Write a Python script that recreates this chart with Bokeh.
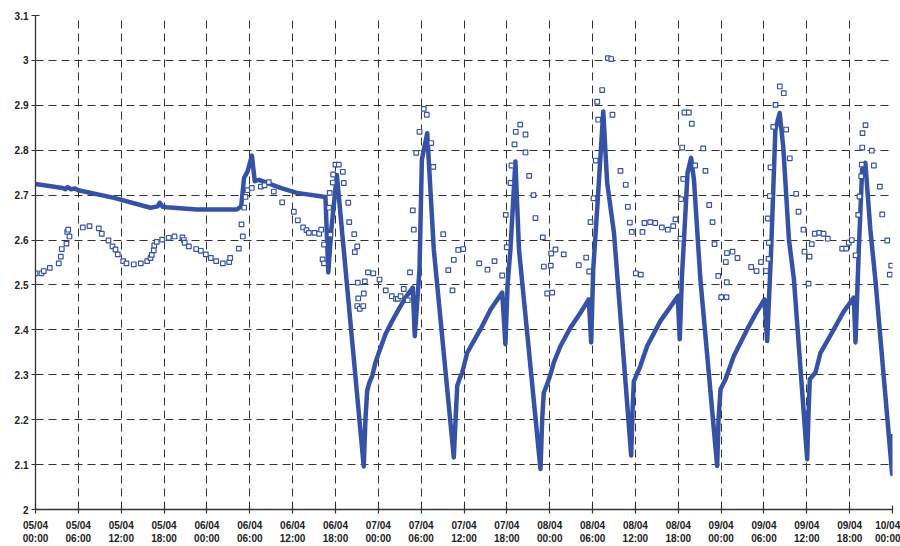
from bokeh.plotting import figure
from bokeh.models import Range1d, FixedTicker
from bokeh.embed import file_html
from bokeh.resources import INLINE

# x values are hours since 05/04 00:00
tick_hours = [0, 6, 12, 18, 24, 30, 36, 42, 48, 54, 60, 66, 72, 78, 84, 90, 96, 102, 108, 114, 120]
tick_labels = ["05/04\n00:00", "05/04\n06:00", "05/04\n12:00", "05/04\n18:00",
               "06/04\n00:00", "06/04\n06:00", "06/04\n12:00", "06/04\n18:00",
               "07/04\n00:00", "07/04\n06:00", "07/04\n12:00", "07/04\n18:00",
               "08/04\n00:00", "08/04\n06:00", "08/04\n12:00", "08/04\n18:00",
               "09/04\n00:00", "09/04\n06:00", "09/04\n12:00", "09/04\n18:00",
               "10/04\n00:00"]

line_hours = [0.0, 3.8, 4.2, 4.5, 5.0, 5.5, 6.0, 11.0, 16.1, 17.1, 17.4, 17.8, 18.4, 22.6, 28.2, 28.8,
              29.2, 29.7, 30.3, 30.7, 31.3, 34.3, 36.6, 40.6, 41.0, 41.4, 42.2, 43.8,
              # cycle 1 recovery
              45.96, 46.2, 46.44, 46.76, 47.14, 47.6, 48.07, 49.0, 49.95, 50.87, 51.81, 52.83, 53.11, 53.77,
              54.1, 54.85, 55.77,
              # cycle 2
              58.57, 58.85, 59.05, 59.4, 59.75, 60.45, 61.4, 62.3, 63.7, 65.35, 65.8, 66.1, 66.5, 67.2, 67.7,
              # cycle 3
              70.71, 70.95, 71.17, 71.65, 72.11, 72.57, 73.51, 74.91, 76.31, 77.47, 77.81, 78.09, 78.45,
              79.5, 80.05, 81.0,
              # cycle 4
              83.41, 83.6, 83.78, 84.16, 84.62, 85.65, 87.51, 88.63, 89.93, 90.21, 90.52, 90.8, 91.3, 91.8,
              92.2, 93.1,
              # cycle 5
              95.45, 95.64, 95.92, 96.62, 97.78, 99.65, 100.81, 102.07, 102.45, 103.01, 103.6, 104.2,
              104.7, 105.5, 106.2,
              # cycle 6
              108.05, 108.23, 108.42, 109.22, 109.92, 111.78, 113.14, 114.58, 114.82, 115.28,
              115.75, 116.2, 116.9, 117.6, 119.95, 120.0]
line_values = [2.725, 2.716, 2.713, 2.718, 2.713, 2.715, 2.711, 2.694, 2.672, 2.675, 2.683, 2.674, 2.673, 2.668, 2.668, 2.675,
               2.738, 2.753, 2.788, 2.731, 2.734, 2.716, 2.705, 2.696, 2.528, 2.620, 2.745, 2.468,
               2.096, 2.201, 2.264, 2.283, 2.297, 2.327, 2.349, 2.390, 2.420, 2.446, 2.472, 2.494, 2.386, 2.534,
               2.779, 2.838, 2.579,
               2.116, 2.210, 2.275, 2.292, 2.305, 2.349, 2.376, 2.401, 2.445, 2.483, 2.368, 2.500, 2.579, 2.775, 2.579,
               2.090, 2.201, 2.260, 2.279, 2.301, 2.327, 2.364, 2.405, 2.438, 2.468, 2.372, 2.534, 2.620,
               2.886, 2.727, 2.616,
               2.120, 2.220, 2.285, 2.300, 2.316, 2.364, 2.420, 2.445, 2.475, 2.379, 2.520, 2.600, 2.749, 2.783,
               2.734, 2.512,
               2.097, 2.200, 2.268, 2.290, 2.342, 2.401, 2.435, 2.468, 2.375, 2.579, 2.846, 2.883,
               2.808, 2.601, 2.512,
               2.112, 2.210, 2.290, 2.305, 2.349, 2.401, 2.440, 2.472, 2.372, 2.579,
               2.757, 2.772, 2.623, 2.512, 2.079, 2.168]

point_hours = [0.0, 0.84, 1.16, 2.0, 3.26, 3.54, 3.68, 4.34, 4.44, 4.58, 4.76, 6.62, 7.56, 8.86, 9.28,
               10.22, 10.78, 11.2, 11.52, 12.28, 12.74, 13.76, 14.74, 15.64, 16.1, 16.28, 16.56, 16.63,
               16.98, 17.74, 18.66, 19.46, 20.58, 20.77, 20.9, 21.47, 22.5, 23.15, 23.85, 24.55, 25.3,
               26.23, 27.12, 27.26, 28.47, 29.03, 28.84, 29.22, 29.4, 29.68, 30.29, 31.55, 32.07, 32.67,
               33.37, 34.54, 36.17, 36.73, 37.48, 37.95, 38.27, 39.07, 39.72, 40.0, 40.2, 40.4, 40.4,
               41.2, 41.1, 41.3, 41.63, 41.68, 42.0, 42.47, 43.03, 43.17, 43.79, 43.93, 44.63, 44.71,
               45.05, 45.13, 45.19, 45.05, 45.41, 45.89, 45.97, 46.11, 46.56, 47.29, 48.17, 49.04,
               49.89, 50.48, 50.73, 51.11, 51.57, 52.13, 52.44, 52.83, 52.97, 53.31, 53.77, 54.37,
               54.79, 55.41, 55.69, 57.09, 57.8, 58.39, 58.57, 59.19, 59.89, 62.13, 63.29, 64.27,
               65.35, 65.85, 65.99, 66.51, 66.65, 67.07, 67.25, 67.87, 68.61, 68.61, 69.13, 69.73,
               70.01, 71.03, 71.17, 71.65, 72.35, 72.15, 72.21, 72.81, 73.97, 76.07, 77.11, 77.53,
               77.71, 78.13, 78.45, 78.65, 78.79, 79.35, 80.14, 80.61, 80.79, 81.91, 82.65, 82.94,
               83.22, 83.49, 84.06, 84.76, 84.99, 85.27, 86.07, 86.77, 87.7, 88.54, 89.29, 89.61,
               90.31, 90.4, 90.55, 90.69, 90.87, 91.48, 91.9, 92.37, 93.49, 93.81, 94.33, 94.8,
               95.08, 95.6, 96.02, 96.76, 96.8, 96.66, 96.82, 97.6, 98.3, 100.21, 100.96, 101.59,
               102.29, 102.64, 102.68, 102.54, 102.82, 102.92, 103.3, 103.62, 104.22, 104.78,
               105.11, 105.62, 106.51, 106.84, 107.54, 107.68, 108.24, 108.38, 108.7, 109.12,
               109.74, 110.34, 110.94, 112.96, 113.52, 113.88, 114.3, 114.82, 115.2, 115.38,
               115.62, 115.7, 115.76, 115.8, 116.22, 117.1, 117.39, 118.23, 118.56, 119.26,
               119.82, 119.62]
point_values = [2.526, 2.526, 2.531, 2.538, 2.548, 2.563, 2.580, 2.592, 2.618, 2.623, 2.608, 2.628, 2.631, 2.626, 2.614,
                2.599, 2.586, 2.579, 2.568, 2.553, 2.548, 2.546, 2.548, 2.553, 2.560, 2.567, 2.577, 2.588,
                2.596, 2.601, 2.605, 2.608, 2.606, 2.600, 2.594, 2.586, 2.580, 2.576, 2.568, 2.560, 2.553,
                2.548, 2.551, 2.560, 2.581, 2.608, 2.635, 2.672, 2.696, 2.711, 2.716, 2.719, 2.722, 2.729,
                2.708, 2.684, 2.663, 2.644, 2.628, 2.622, 2.616, 2.616, 2.614, 2.623, 2.557, 2.548, 2.590,
                2.705, 2.672, 2.612, 2.728, 2.746, 2.768, 2.768, 2.752, 2.727, 2.683, 2.640, 2.613, 2.573,
                2.586, 2.505, 2.470, 2.453, 2.447, 2.453, 2.481, 2.508, 2.528, 2.526, 2.512, 2.488,
                2.475, 2.469, 2.469, 2.475, 2.491, 2.466, 2.528, 2.666, 2.623, 2.794, 2.841, 2.892,
                2.879, 2.816, 2.763, 2.613, 2.533, 2.488, 2.556, 2.578, 2.580, 2.548, 2.534, 2.553,
                2.521, 2.656, 2.584, 2.727, 2.766, 2.813, 2.841, 2.857, 2.835, 2.795, 2.743, 2.700,
                2.649, 2.606, 2.541, 2.481, 2.483, 2.543, 2.570, 2.579, 2.568, 2.544, 2.561, 2.530,
                2.640, 2.693, 2.777, 2.908, 2.868, 2.934, 3.005, 3.003, 2.879, 2.754, 2.723, 2.674,
                2.639, 2.618, 2.526, 2.523, 2.618, 2.638, 2.640, 2.638, 2.628, 2.623, 2.631, 2.646,
                2.603, 2.691, 2.806, 2.736, 2.884, 2.884, 2.859, 2.766, 2.804, 2.754, 2.678, 2.640,
                2.591, 2.520, 2.473, 2.473, 2.506, 2.551, 2.571, 2.574, 2.560, 2.540, 2.531, 2.551,
                2.531, 2.558, 2.594, 2.648, 2.698, 2.762, 2.852, 2.901, 2.942, 2.927,
                2.846, 2.782, 2.703, 2.663, 2.623, 2.574, 2.503, 2.563, 2.591, 2.614,
                2.616, 2.614, 2.603, 2.581, 2.581, 2.594, 2.600, 2.566, 2.656, 2.697,
                2.742, 2.768, 2.806, 2.838, 2.856, 2.799, 2.766, 2.719, 2.657, 2.599,
                2.543, 2.523]

BLUE = "#3552a5"
FONT = "Liberation Sans"

p = figure(width=900, height=546, output_backend="svg", toolbar_location=None,
           x_range=Range1d(0, 120), y_range=Range1d(2.0, 3.1),
           min_border_left=35, min_border_right=8, min_border_top=15, min_border_bottom=35)
p.outline_line_color = None
p.background_fill_color = "white"

for ax in (p.xaxis[0], p.yaxis[0]):
    ax.axis_line_color = "#333333"
    ax.axis_line_width = 1.3
    ax.major_tick_line_color = "#333333"
    ax.major_tick_line_width = 1.2
    ax.major_tick_in = 4
    ax.major_tick_out = 4
    ax.minor_tick_line_color = None
    ax.major_label_text_font = FONT
    ax.major_label_text_font_style = "bold"
    ax.major_label_text_font_size = "10px"
    ax.major_label_text_color = "#222222"

p.xaxis.ticker = FixedTicker(ticks=tick_hours)
p.xaxis.major_label_overrides = {h: lab for h, lab in zip(tick_hours, tick_labels)}
p.xaxis.major_label_standoff = 6
p.yaxis.ticker = FixedTicker(ticks=[2.0, 2.1, 2.2, 2.3, 2.4, 2.5, 2.6, 2.7, 2.8, 2.9, 3.0, 3.1])
p.yaxis.major_label_overrides = {2.0: "2", 3.0: "3"}
p.yaxis.major_label_standoff = 3

for g in (p.xgrid[0], p.ygrid[0]):
    g.grid_line_color = "#333333"
    g.grid_line_width = 1
    g.grid_line_dash = "8 5"

p.line(line_hours, line_values, line_color=BLUE, line_width=4.5, line_join="round")
p.scatter(point_hours, point_values, marker="square", size=4.6, fill_color="white",
          line_color=BLUE, line_width=1.2)

open("out.html", "w").write(file_html(p, INLINE))
